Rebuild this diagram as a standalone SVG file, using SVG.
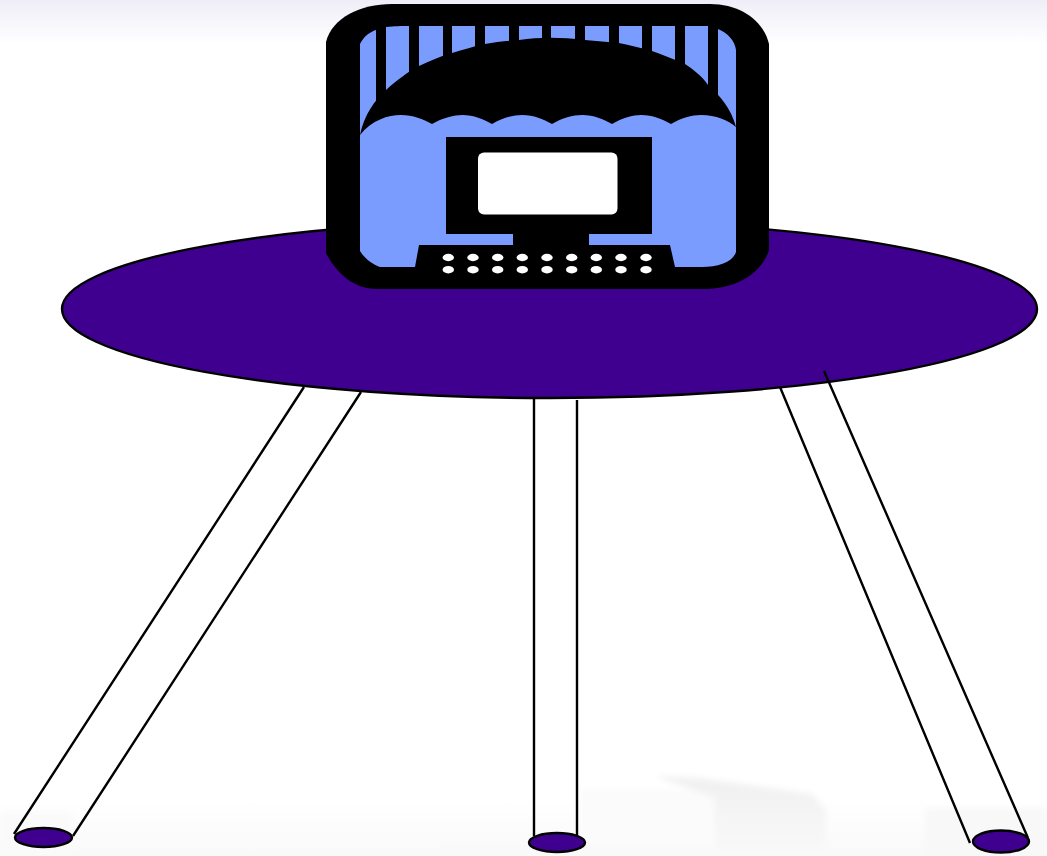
<svg xmlns="http://www.w3.org/2000/svg" width="1047" height="856" viewBox="0 0 1047 856">
<style>
.leg{stroke:#000;stroke-width:2.400;fill:none}
.disc{fill:#3f0090;stroke:#000;stroke-width:2.400}
.blk{fill:#000}
.blue{fill:#7b9cff}
.dot{fill:#fff}
</style>
<defs>
<linearGradient id="top" x1="0" y1="0" x2="0" y2="1"><stop offset="0" stop-color="#efeef8"/><stop offset="1" stop-color="#fff"/></linearGradient>
<linearGradient id="bot" x1="0" y1="0" x2="0" y2="1"><stop offset="0" stop-color="#fff"/><stop offset="1" stop-color="#f9f9f9"/></linearGradient>
<linearGradient id="bld" x1="0" y1="0" x2="0" y2="1"><stop offset="0" stop-color="#f0f0f0"/><stop offset="1" stop-color="#f9f9f9"/></linearGradient>
<filter id="soft" x="-10%" y="-10%" width="120%" height="120%"><feGaussianBlur stdDeviation="3"/></filter>
</defs>
<g id="background">
<rect width="1047" height="856" fill="#fff"/>
<rect width="1047" height="44" fill="url(#top)"/>
<rect y="800" width="1047" height="56" fill="url(#bot)"/>
<g filter="url(#soft)">
<rect x="580" y="790" width="135" height="66" fill="#fbfbfb"/>
<path d="M655 776L700 778L812 794L826 810L826 856L715 856L715 798Z" fill="url(#bld)"/>
<rect x="442" y="845" width="270" height="11" fill="#f9f9f9"/>
<rect x="925" y="808" width="122" height="48" fill="#f8f8f8"/>
<rect x="0" y="812" width="72" height="44" fill="#fafafa"/>
</g>
</g>
<g id="table"><ellipse class="disc" cx="549.5" cy="309" rx="487.5" ry="89"/></g>
<g id="connectors">
<path class="leg" d="M304 387L14 834M361 392L73 836"/>
<path class="leg" d="M534 398L534 836M577 400L577 836"/>
<path class="leg" d="M780 387L970 843M824 371L1028 838"/>
</g>
<g id="foot-left"><ellipse class="disc" cx="43.5" cy="837.5" rx="28.5" ry="9.5"/></g>
<g id="foot-middle"><ellipse class="disc" cx="557" cy="842.5" rx="28" ry="9.5"/></g>
<g id="foot-right"><ellipse class="disc" cx="1001" cy="841.5" rx="28" ry="11"/></g>
<g id="computer">
<path class="blk" d="M326 42C332 18 360 4 392 4L710 4C742 4 764 22 769 44L769 250C762 272 738 289 703 289L377 289C354 289 337 274 326 253Z"/>
<path class="blue" d="M360 44C364 36 370 32 376 30L386 27C395 26 400 26 409 26L718 26L718 29C728 33 735 41 736 50L736 252C733 262 718 267 702 267L380 267C372 264 364 258 360 251Z"/>
<g class="blk">
<rect x="376" y="20" width="10" height="90"/>
<rect x="409" y="20" width="10" height="60"/>
<rect x="443" y="20" width="9" height="45"/>
<rect x="475" y="20" width="10" height="35"/>
<rect x="509" y="20" width="10" height="30"/>
<rect x="542" y="20" width="9" height="25"/>
<rect x="575" y="20" width="10" height="30"/>
<rect x="609" y="20" width="10" height="30"/>
<rect x="642" y="20" width="10" height="35"/>
<rect x="675" y="20" width="10" height="50"/>
<rect x="708" y="20" width="10" height="80"/>
</g>
<path class="blk" d="M360 135C364 115 375 100 386 90C398 79 408 72 419 66C430 61 441 56 452 53C463 50 474 46 485 44C496 42 508 41 519 40C540 37 560 37 585 40C596 41 608 42 619 43C630 45 641 48 652 51C663 55 674 59 685 64C694 70 702 76 708 85C720 96 731 108 736 127L736 135L360 140Z"/>
<path class="blue" d="M360 135C372 120 388 115 401 115C413 115 423 119 432 124C442 118 455 115 462 115C474 115 483 119 492 124C502 118 513 115 522 115C534 115 543 119 552 124C562 118 573 115 582 115C594 115 603 119 612 124C622 118 633 115 641 115C653 115 662 119 671 124C681 118 692 115 701 115C716 115 728 120 736 127L736 150L360 150Z"/>
<rect class="blk" x="446" y="137" width="206" height="97"/>
<rect class="dot" x="478" y="152.500" width="139.500" height="62" rx="6"/>
<path class="blk" d="M513 234H589V245H670L675 267L690 289H400L415 267L419 245H513Z"/>
<g class="dot">
<ellipse cx="448.300" cy="257.500" rx="5.700" ry="3.700"/><ellipse cx="473" cy="257.500" rx="5.700" ry="3.700"/><ellipse cx="497.700" cy="257.500" rx="5.700" ry="3.700"/><ellipse cx="522.300" cy="257.500" rx="5.700" ry="3.700"/><ellipse cx="547" cy="257.500" rx="5.700" ry="3.700"/><ellipse cx="571.700" cy="257.500" rx="5.700" ry="3.700"/><ellipse cx="596.300" cy="257.500" rx="5.700" ry="3.700"/><ellipse cx="621" cy="257.500" rx="5.700" ry="3.700"/><ellipse cx="646" cy="257.500" rx="5.700" ry="3.700"/>
<ellipse cx="448.300" cy="269.700" rx="5.700" ry="3.700"/><ellipse cx="473" cy="269.700" rx="5.700" ry="3.700"/><ellipse cx="497.700" cy="269.700" rx="5.700" ry="3.700"/><ellipse cx="522.300" cy="269.700" rx="5.700" ry="3.700"/><ellipse cx="547" cy="269.700" rx="5.700" ry="3.700"/><ellipse cx="571.700" cy="269.700" rx="5.700" ry="3.700"/><ellipse cx="596.300" cy="269.700" rx="5.700" ry="3.700"/><ellipse cx="621" cy="269.700" rx="5.700" ry="3.700"/><ellipse cx="646" cy="269.700" rx="5.700" ry="3.700"/>
</g>
</g>
</svg>
